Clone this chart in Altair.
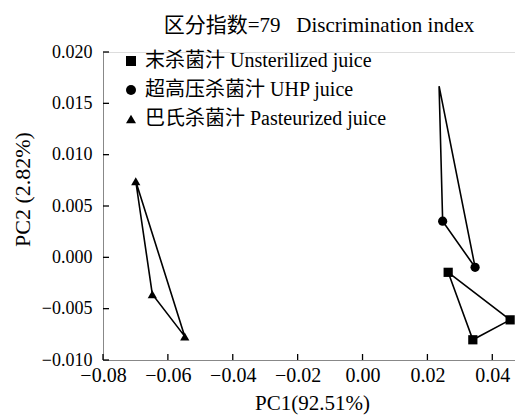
import altair as alt
import pandas as pd

# ---- data ----
groups = ["末杀菌汁 Unsterilized juice", "超高压杀菌汁 UHP juice", "巴氏杀菌汁 Pasteurized juice"]
shapes = ["square", "circle", "triangle-up"]

unsterilized_pc1 = [0.0264, 0.0455, 0.0340]
unsterilized_pc2 = [-0.00146, -0.00609, -0.00803]
unsterilized_marked = [True, True, True]

uhp_pc1 = [0.0236, 0.0247, 0.0347]
uhp_pc2 = [0.01667, 0.00352, -0.00097]
uhp_marked = [False, True, True]

past_pc1 = [-0.0699, -0.0648, -0.0548]
past_pc2 = [0.00741, -0.00359, -0.0077]
past_marked = [True, True, True]

x_ticks = [-0.08, -0.06, -0.04, -0.02, 0.00, 0.02, 0.04]
y_ticks = [-0.010, -0.005, 0.000, 0.005, 0.010, 0.015, 0.020]

title_text = "区分指数=79\u00a0\u00a0\u00a0Discrimination index"
x_title = "PC1(92.51%)"
y_title = "PC2 (2.82%)"

# ---- build tables ----
series = [
    (groups[0], unsterilized_pc1, unsterilized_pc2, unsterilized_marked),
    (groups[1], uhp_pc1, uhp_pc2, uhp_marked),
    (groups[2], past_pc1, past_pc2, past_marked),
]
poly_rows, point_rows = [], []
for g, xs, ys, ms in series:
    n = len(xs)
    for i in range(n + 1):
        j = i % n
        poly_rows.append({"group": g, "pc1": xs[j], "pc2": ys[j], "ord": i})
    for x, y, m in zip(xs, ys, ms):
        if m:
            point_rows.append({"group": g, "pc1": x, "pc2": y})
poly = pd.DataFrame(poly_rows)
pts = pd.DataFrame(point_rows)
xt = pd.DataFrame({"v": x_ticks})
yt = pd.DataFrame({"v": y_ticks})

W, H = 412, 308
FONT = "'Liberation Serif', 'Noto Sans CJK SC', serif"

xscale = alt.Scale(domain=[-0.08, 0.047], nice=False, zero=False)
yscale = alt.Scale(domain=[-0.010, 0.020], nice=False, zero=False)

xaxis = alt.Axis(values=x_ticks, format=".2f", ticks=False, grid=False,
                 labelFont=FONT, titleFont=FONT, labelColor="black", titleColor="black",
                 labelFontSize=20, labelPadding=5, labelFlush=False,
                 title=x_title, titleFontSize=21, titleFontWeight="normal",
                 titleBaseline="alphabetic", titleY=49, titleX=W / 2 + 3)
yaxis = alt.Axis(values=y_ticks, format=".3f", ticks=False, grid=False,
                 labelFont=FONT, titleFont=FONT, labelColor="black", titleColor="black",
                 labelFontSize=18, labelPadding=11, labelFlush=False,
                 title=y_title, titleFontSize=22, titleFontWeight="normal",
                 titleAngle=270, titleAlign="center", titleBaseline="middle",
                 titleX=-81, titleY=137)

lines = alt.Chart(poly).mark_line(color="black", strokeWidth=1.6).encode(
    x=alt.X("pc1:Q", scale=xscale, axis=xaxis),
    y=alt.Y("pc2:Q", scale=yscale, axis=yaxis),
    detail="group:N",
    order="ord:Q",
)

points = alt.Chart(pts).mark_point(filled=True, opacity=1, color="black", size=85).encode(
    x=alt.X("pc1:Q", scale=xscale),
    y=alt.Y("pc2:Q", scale=yscale),
    shape=alt.Shape("group:N", scale=alt.Scale(domain=groups, range=shapes),
                    legend=alt.Legend(title=None, orient="none", legendX=18, legendY=-1,
                                      symbolSize=100, symbolFillColor="black",
                                      symbolStrokeColor="black", symbolStrokeWidth=0,
                                      labelFont=FONT, labelColor="black",
                                      labelFontSize=20, labelOffset=4, rowPadding=9,
                                      padding=0, labelLimit=400)),
)

xtick_rules = alt.Chart(xt).mark_rule(color="black", strokeWidth=1.3).encode(
    x=alt.X("v:Q", scale=xscale),
    y=alt.value(H),
    y2=alt.value(H - 6),
)
ytick_rules = alt.Chart(yt).mark_rule(color="black", strokeWidth=1.3).encode(
    y=alt.Y("v:Q", scale=yscale),
    x=alt.value(0),
    x2=alt.value(6),
)

chart = alt.layer(lines, xtick_rules, ytick_rules, points).properties(
    width=W, height=H,
    autosize=alt.AutoSizeParams(type="none"),
    padding={"left": 95, "top": 44, "right": 0, "bottom": 55},
    title=alt.Title(title_text, fontSize=21, fontWeight="normal", font=FONT,
                    color="black", anchor="middle", offset=7, dx=10),
).configure_view(stroke=None).configure_axis(
    domainColor="black", domainWidth=1.4,
).configure(background="white", font=FONT)

chart.save("out.html", embed_options={"renderer": "svg", "actions": False})
